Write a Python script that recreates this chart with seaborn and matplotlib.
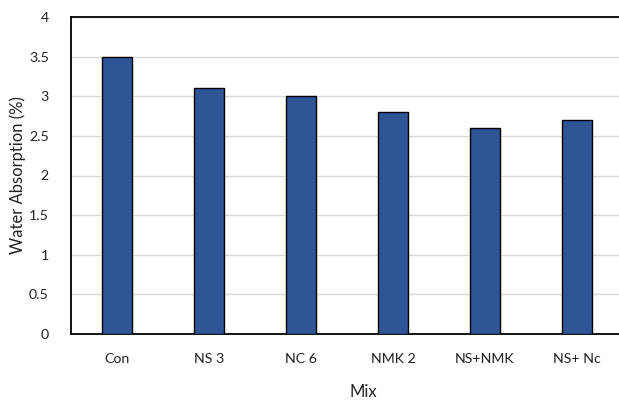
import matplotlib
matplotlib.use("Agg")
import matplotlib.pyplot as plt
import seaborn as sns
import pandas as pd

mixes = ["Con", "NS 3", "NC 6", "NMK 2", "NS+NMK", "NS+ Nc"]
absorption = [3.5, 3.1, 3.0, 2.8, 2.6, 2.7]
y_ticks = [0, 0.5, 1, 1.5, 2, 2.5, 3, 3.5, 4]
y_tick_labels = ["0", "0.5", "1", "1.5", "2", "2.5", "3", "3.5", "4"]

sns.set_theme(style="white")
plt.rcParams["font.family"] = ["Lato", "DejaVu Sans"]

df = pd.DataFrame({"Mix": mixes, "Absorption": absorption})

fig = plt.figure(figsize=(6.19, 4.01), dpi=100)
ax = fig.add_axes([71 / 619, 1 - 334 / 401, 552 / 619, 317 / 401])

sns.barplot(data=df, x="Mix", y="Absorption", ax=ax, color="#2F5597",
            saturation=1, width=0.32, edgecolor="black", linewidth=1.0,
            zorder=3)

ax.set_xlim(-0.5, len(mixes) - 0.5)
ax.set_ylim(0, 4)
ax.set_yticks(y_ticks)
ax.set_yticklabels(y_tick_labels)
ax.yaxis.grid(True, color="#d9d9d9", linewidth=1.0, zorder=0)
ax.xaxis.grid(False)

for side in ["left", "bottom", "top"]:
    ax.spines[side].set_visible(True)
    ax.spines[side].set_color("black")
    ax.spines[side].set_linewidth(1.3)
ax.spines["right"].set_visible(False)

ax.tick_params(axis="both", length=0, labelsize=10.2, colors="#222222")
ax.tick_params(axis="y", pad=16)
ax.tick_params(axis="x", pad=14)

ax.set_xlabel("")
ax.set_ylabel("")
fig.text(363 / 619, 1 - 392 / 401, "Mix", ha="center", va="center",
         fontsize=12, color="#222222")
fig.text(18 / 619, 1 - 175 / 401, "Water Absorption (%)", ha="center",
         va="center", rotation=90, fontsize=12, color="#222222")

fig.savefig("out.png", dpi=100)
